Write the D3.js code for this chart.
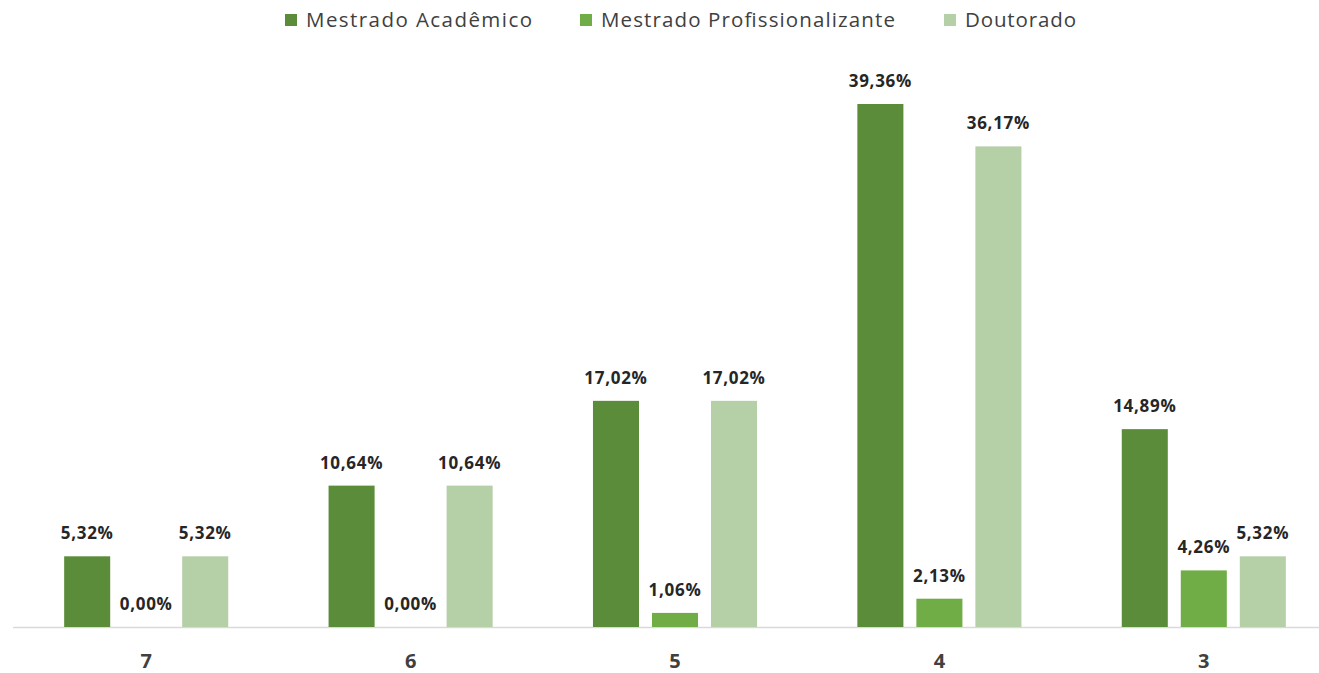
<!DOCTYPE html>
<html><head><meta charset="utf-8">
<script src="https://cdn.jsdelivr.net/npm/d3@7"></script>
<style>body{margin:0;background:#fff;} svg{display:block;}</style>
</head><body>
<svg id="chart" width="1319" height="673"></svg>
<script>
const categories = ["7", "6", "5", "4", "3"];
const seriesNames = ["Mestrado Acadêmico", "Mestrado Profissionalizante", "Doutorado"];
const mestradoAcademico = [5.32, 10.64, 17.02, 39.36, 14.89];
const mestradoProfissionalizante = [0.00, 0.00, 1.06, 2.13, 4.26];
const doutorado = [5.32, 10.64, 17.02, 36.17, 5.32];
const colors = ["#5b8c3a", "#70ad47", "#b5cfa7"];

const seriesValues = [mestradoAcademico, mestradoProfissionalizante, doutorado];
const svg = d3.select("#chart");
const baseY = 627;

const x0 = d3.scaleBand().domain(categories).range([14, 1336]).paddingInner(0).paddingOuter(0);
const x1 = d3.scaleBand().domain(seriesNames).range([0, x0.bandwidth()]).paddingInner(0.22).paddingOuter(0.85);
const y = d3.scaleLinear().domain([0, 39.36]).range([baseY, 104]);

const fmt = v => v.toFixed(2).replace(".", ",") + "%";

// axis line
svg.append("line").attr("x1", 13).attr("x2", 1319).attr("y1", baseY + 0.5).attr("y2", baseY + 0.5)
  .attr("stroke", "#d9d9d9").attr("stroke-width", 1.5);

const groups = svg.selectAll("g.cat").data(categories).join("g")
  .attr("class", "cat").attr("transform", d => `translate(${x0(d)},0)`);

seriesNames.forEach((s, si) => {
  groups.append("rect")
    .attr("x", x1(s)).attr("width", x1.bandwidth())
    .attr("y", (d, i) => y(seriesValues[si][i]))
    .attr("height", (d, i) => baseY - y(seriesValues[si][i]))
    .attr("fill", colors[si]);
  groups.append("text")
    .attr("x", x1(s) + x1.bandwidth() / 2)
    .attr("y", (d, i) => y(seriesValues[si][i]) - 17)
    .attr("text-anchor", "middle")
    .attr("font-family", "Open Sans, sans-serif").attr("font-weight", "bold").attr("font-size", 17)
    .attr("letter-spacing", 0.7)
    .attr("fill", "#262626")
    .text((d, i) => fmt(seriesValues[si][i]));
});

// category labels
const xAxis = d3.axisBottom(x0).tickSize(0).tickPadding(0);
const ax = svg.append("g").attr("transform", `translate(0,${baseY + 41})`).call(xAxis);
ax.select(".domain").remove();
ax.selectAll("text").attr("font-family", "Open Sans, sans-serif").attr("font-weight", "bold")
  .attr("font-size", 20).attr("fill", "#404040").attr("dy", 0);

// legend
const legendX = [285, 580, 944];
const legendW = [226, 294, 111];
const leg = svg.append("g");
seriesNames.forEach((s, i) => {
  leg.append("rect").attr("x", legendX[i]).attr("y", 14).attr("width", 12).attr("height", 12).attr("fill", colors[i]);
  leg.append("text").attr("x", legendX[i] + 21).attr("y", 27)
    .attr("font-family", "Open Sans, sans-serif").attr("font-size", 20.5).attr("fill", "#404040")
    .attr("textLength", legendW[i]).attr("lengthAdjust", "spacing").text(s);
});
</script>
</body></html>
